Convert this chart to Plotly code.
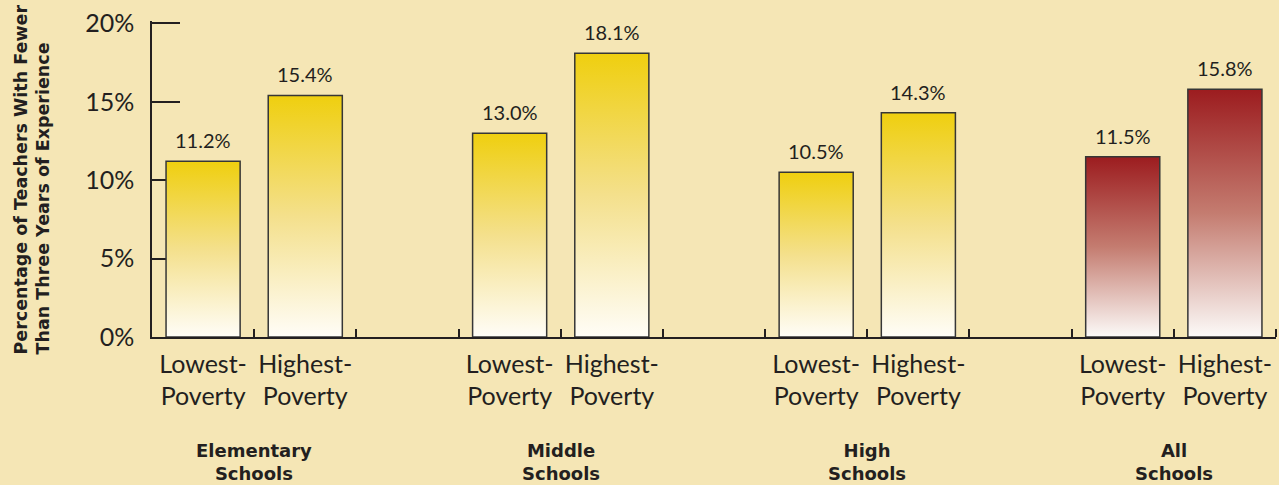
import plotly.graph_objects as go

# ---- data ----
groups = ["Elementary<br>Schools", "Middle<br>Schools", "High<br>Schools", "All<br>Schools"]
poverty_levels = ["Lowest-<br>Poverty", "Highest-<br>Poverty"]
lowest = [11.2, 13.0, 10.5, 11.5]
highest = [15.4, 18.1, 14.3, 15.8]
y_ticks = [0, 5, 10, 15, 20]
y_tick_labels = ["0%", "5%", "10%", "15%", "20%"]
y_title = "Percentage of Teachers With Fewer<br>Than Three Years of Experience"

# ---- styles ----
BG = "#F5E6B5"
TXT = "#231F20"
FONT = "Lato"
BOLD_FONT = "DejaVu Sans"
YELLOW_SCALE = [[0, "#FFFDF7"], [0.5, "#F4E08C"], [1, "#EFCF0F"]]
RED_SCALE = [[0, "#FCFAF8"], [0.5, "#C47C70"], [1, "#9C1C1F"]]
BAR_W = 0.725
SLOTS_PER_GROUP = 3

fig = go.Figure()

centers, labels = [], []
for g, (lo, hi) in enumerate(zip(lowest, highest)):
    scale = RED_SCALE if g == len(groups) - 1 else YELLOW_SCALE
    for k, v in enumerate([lo, hi]):
        c = g * SLOTS_PER_GROUP + k
        centers.append(c)
        labels.append(poverty_levels[k])
        x0, x1 = c - BAR_W / 2, c + BAR_W / 2
        fig.add_trace(go.Scatter(
            x=[x0, x0, x1, x1, x0], y=[0, v, v, 0, 0],
            mode="lines", fill="toself",
            fillgradient=dict(type="vertical", colorscale=scale),
            line=dict(color="#363636", width=1.5),
            hoverinfo="skip", showlegend=False,
        ))
        fig.add_annotation(x=c, y=v, text=f"{v:.1f}%", showarrow=False,
                           yanchor="bottom", yshift=7,
                           font=dict(family=FONT, size=20, color=TXT))
    fig.add_annotation(x=g * SLOTS_PER_GROUP + 0.5, xref="x",
                       y=(337 - 438) / 316, yref="paper", yanchor="top",
                       text=f"<b>{groups[g]}</b>", showarrow=False,
                       font=dict(family=BOLD_FONT, size=18, color=TXT))

n_slots = len(groups) * SLOTS_PER_GROUP - 1
boundaries = [i + 0.5 for i in range(n_slots)]

fig.add_annotation(text=f"<b>{y_title}</b>", textangle=-90, align="left",
                   xref="paper", yref="paper", x=(9 - 152) / 1124, xanchor="left",
                   y=(337 - 357) / 316, yanchor="bottom", showarrow=False,
                   font=dict(family=BOLD_FONT, size=17.5, color=TXT))

fig.update_layout(
    width=1279, height=485, autosize=False,
    margin=dict(l=152, r=3, t=21, b=148),
    paper_bgcolor=BG, plot_bgcolor=BG,
    font=dict(family=FONT, color=TXT),
    xaxis=dict(range=[-0.5, n_slots - 0.5], tickmode="array", tickvals=centers,
               ticktext=labels, ticks="", showgrid=False, zeroline=False,
               showline=True, linecolor=TXT, linewidth=1.5, ticklabelstandoff=4,
               tickfont=dict(family=FONT, size=25, color=TXT),
               minor=dict(tickmode="array", tickvals=boundaries, ticks="inside",
                          ticklen=8, tickwidth=1.5, tickcolor=TXT, showgrid=False),
               fixedrange=True),
    yaxis=dict(range=[0, 20.15], tickmode="array", tickvals=y_ticks, ticktext=y_tick_labels,
               ticks="inside", ticklen=28, tickwidth=1.5, tickcolor=TXT,
               showgrid=False, zeroline=False, showline=True, linecolor=TXT, linewidth=1.5,
               layer="below traces", ticklabelstandoff=11,
               tickfont=dict(family=FONT, size=25, color=TXT), fixedrange=True),
)

fig.write_html("out.html")
